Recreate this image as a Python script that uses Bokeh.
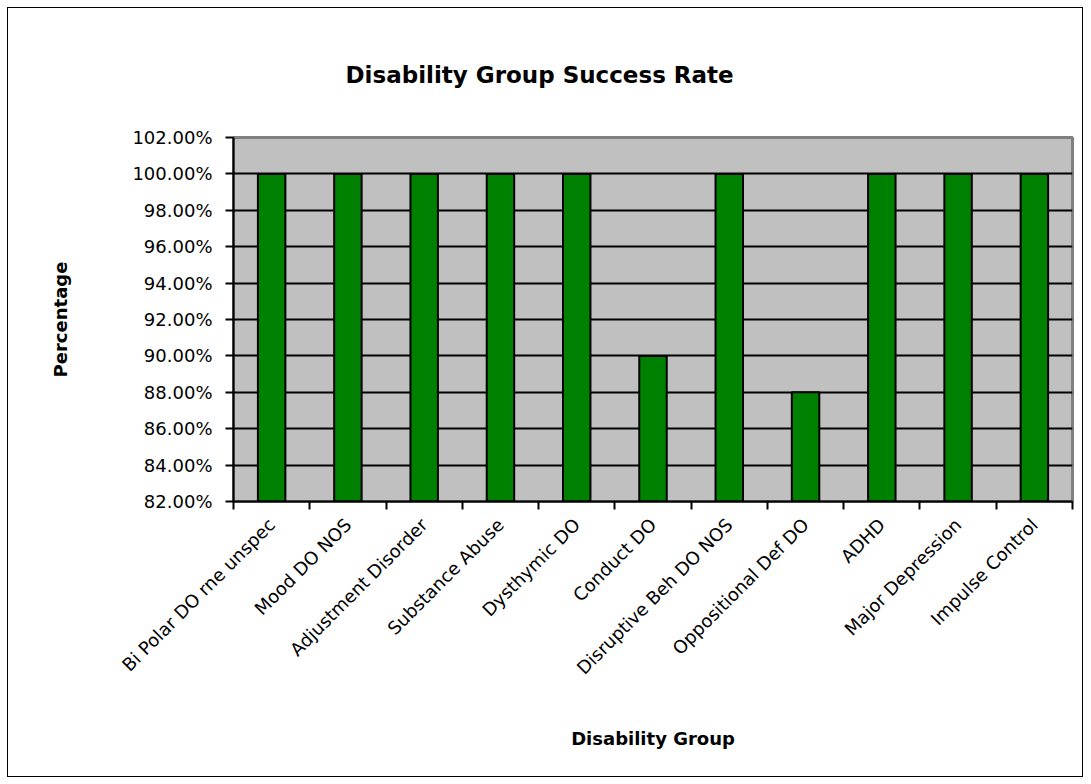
import math
from bokeh.plotting import figure
from bokeh.models import Range1d, FixedTicker, NumeralTickFormatter
from bokeh.embed import file_html
from bokeh.resources import INLINE

title_text = "Disability Group Success Rate"
categories = ["Bi Polar DO rne unspec", "Mood DO NOS", "Adjustment Disorder", "Substance Abuse",
              "Dysthymic DO", "Conduct DO", "Disruptive Beh DO NOS", "Oppositional Def DO",
              "ADHD", "Major Depression", "Impulse Control"]
success_rate = [1.00, 1.00, 1.00, 1.00, 1.00, 0.90, 1.00, 0.88, 1.00, 1.00, 1.00]
y_ticks = [0.82, 0.84, 0.86, 0.88, 0.90, 0.92, 0.94, 0.96, 0.98, 1.00, 1.02]

n = len(categories)
centers = [i + 0.5 for i in range(n)]
bounds = [float(i) for i in range(n + 1)]

p = figure(width=1076, height=770, output_backend="svg", toolbar_location=None,
           x_range=Range1d(0, n), y_range=Range1d(y_ticks[0], y_ticks[-1]),
           min_border_left=225, min_border_right=12, min_border_top=129, min_border_bottom=277)
p.styles = {"margin-left": "7px", "margin-top": "7px", "border": "1px solid black"}

p.title.text = title_text
p.title.text_font = "DejaVu Sans"
p.title.text_font_style = "bold"
p.title.text_font_size = "23px"
p.title.text_color = "black"
p.title.align = "left"
p.title.offset = 112
p.title.standoff = 100

p.background_fill_color = "#C0C0C0"
p.border_fill_color = "white"
p.outline_line_color = "#808080"
p.outline_line_width = 3

p.vbar(x=centers, top=success_rate, bottom=y_ticks[0], width=0.36,
       fill_color="#008000", line_color="black", line_width=2)

p.xgrid.visible = False
p.ygrid.ticker = FixedTicker(ticks=y_ticks[1:-1])
p.ygrid.grid_line_color = "black"
p.ygrid.grid_line_width = 2
p.ygrid.grid_line_alpha = 1.0

ya = p.yaxis[0]
ya.ticker = FixedTicker(ticks=y_ticks)
ya.formatter = NumeralTickFormatter(format="0.00%")
ya.axis_label = "Percentage"
ya.axis_label_text_font = "DejaVu Sans"
ya.axis_label_text_font_style = "bold"
ya.axis_label_text_font_size = "18px"
ya.axis_label_text_color = "black"
ya.axis_label_standoff = 58
ya.major_label_text_font = "DejaVu Sans"
ya.major_label_text_font_size = "18px"
ya.major_label_text_color = "black"
ya.major_label_standoff = 13
ya.major_tick_in = 0
ya.major_tick_out = 8
ya.major_tick_line_color = "black"
ya.major_tick_line_width = 2
ya.minor_tick_line_color = None
ya.axis_line_color = "black"
ya.axis_line_width = 2

xa = p.xaxis[0]
xa.ticker = FixedTicker(ticks=centers, minor_ticks=bounds)
xa.major_label_overrides = {c: lab for c, lab in zip(centers, categories)}
xa.major_label_orientation = math.pi / 4
xa.major_label_text_font = "DejaVu Sans"
xa.major_label_text_font_size = "18px"
xa.major_label_text_color = "black"
xa.major_label_standoff = 12
xa.major_tick_line_color = None
xa.minor_tick_in = 0
xa.minor_tick_out = 8
xa.minor_tick_line_color = "black"
xa.minor_tick_line_width = 2
xa.axis_line_color = "black"
xa.axis_line_width = 2
xa.axis_label = "Disability Group"
xa.axis_label_text_font = "DejaVu Sans"
xa.axis_label_text_font_style = "bold"
xa.axis_label_text_font_size = "18px"
xa.axis_label_text_color = "black"
xa.axis_label_standoff = 39

open("out.html", "w").write(file_html(p, INLINE))
